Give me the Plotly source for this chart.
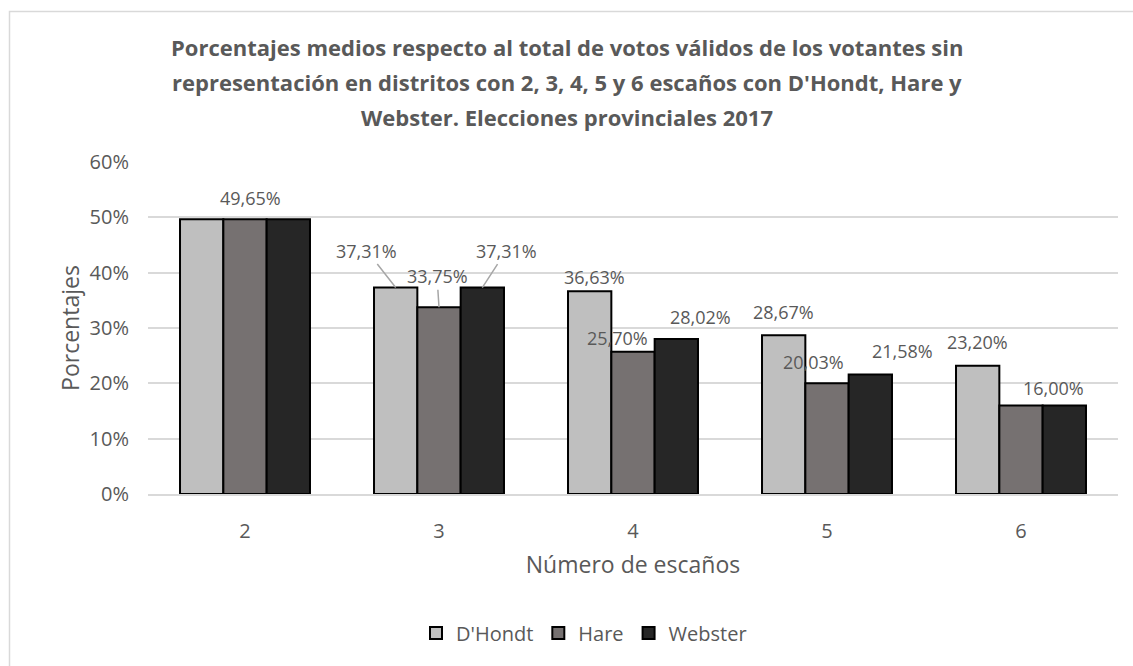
import plotly.graph_objects as go

# ---- data ----
categories = ["2", "3", "4", "5", "6"]
series_names = ["D'Hondt", "Hare", "Webster"]
dhondt = [49.65, 37.31, 36.63, 28.67, 23.20]
hare = [49.65, 33.75, 25.70, 20.03, 16.00]
webster = [49.65, 37.31, 28.02, 21.58, 16.00]
y_ticks = [0, 10, 20, 30, 40, 50, 60]
y_ticklabels = ["0%", "10%", "20%", "30%", "40%", "50%", "60%"]
title_lines = [
    "Porcentajes medios respecto al total de votos válidos de los votantes sin",
    "representación en distritos con 2, 3, 4, 5 y 6 escaños con D'Hondt, Hare y",
    "Webster. Elecciones provinciales 2017",
]
x_title = "Número de escaños"
y_title = "Porcentajes"

# ---- style ----
colors = ["#BFBFBF", "#767171", "#262626"]
FONT = "Open Sans"
TXT = "#595959"
GRID = "#D9D9D9"
BAR_PX = 43.3  # bar width in pixels (for label offsets)
PLOT_L, PLOT_W, PLOT_BOTTOM, PLOT_H = 148, 970, 494, 332

fig = go.Figure()
for name, vals, col in zip(series_names, [dhondt, hare, webster], colors):
    fig.add_trace(go.Bar(
        x=categories, y=vals, name=name,
        marker=dict(color=col, line=dict(color="#000000", width=2)),
    ))

def fmt(v):
    return f"{v:.2f}".replace(".", ",") + "%"

# label placement (series index, category index, dx px from bar centre, dy px above bar top, leader)
label_style = [
    (1, 0, 5, 21, False),
    (0, 1, -29, 37, True),
    (1, 1, -2, 31, True),
    (2, 1, 24, 37, True),
    (0, 2, 5, 14, False),
    (1, 2, -16, 14, False),
    (2, 2, 24, 22, False),
    (0, 3, 0, 23, False),
    (1, 3, -14, 21, False),
    (2, 3, 32, 24, False),
    (0, 4, 0, 24, False),
    (1, 4, 32, 17, False),
]
all_series = [dhondt, hare, webster]
for s, c, dx, dy, leader in label_style:
    v = all_series[s][c]
    off = (s - 1) * BAR_PX
    if leader:
        fig.add_annotation(
            x=c, y=v, xref="x", yref="y", xshift=off,
            text=fmt(v), showarrow=True, arrowhead=0, arrowwidth=1.5,
            arrowcolor="#A6A6A6", ax=dx, ay=-dy, standoff=0,
            font=dict(family=FONT, size=18, color=TXT),
        )
    else:
        fig.add_annotation(
            x=c, y=v, xref="x", yref="y",
            xshift=off + dx, yshift=dy, text=fmt(v), showarrow=False,
            font=dict(family=FONT, size=18, color=TXT),
        )

# title (three lines, Excel-like line spacing)
title_px_y = [47, 82, 117]
for line, py in zip(title_lines, title_px_y):
    fig.add_annotation(
        text=f"<b>{line}</b>", xref="paper", yref="paper",
        x=(567 - PLOT_L) / PLOT_W, y=(PLOT_BOTTOM - py) / PLOT_H,
        xanchor="center", yanchor="middle", showarrow=False,
        font=dict(family=FONT, size=22, color=TXT),
    )

# outer chart border (top & left visible)
fig.add_shape(type="rect", xref="paper", yref="paper",
              x0=(9.5 - PLOT_L) / PLOT_W, x1=(1140 - PLOT_L) / PLOT_W,
              y0=(PLOT_BOTTOM - 680) / PLOT_H, y1=(PLOT_BOTTOM - 11.5) / PLOT_H,
              line=dict(color="#D9D9D9", width=1.5), fillcolor="rgba(0,0,0,0)", layer="below")

fig.update_layout(
    width=1133, height=666,
    margin=dict(l=148, r=15, t=162, b=172),
    paper_bgcolor="white", plot_bgcolor="white",
    barmode="group", bargap=0.33, bargroupgap=0,
    font=dict(family=FONT, color=TXT, size=18),
    showlegend=True,
    legend=dict(orientation="h", x=(584 - PLOT_L) / PLOT_W, xanchor="center",
                y=(PLOT_BOTTOM - 633) / PLOT_H, yanchor="middle",
                font=dict(family=FONT, size=20, color=TXT),
                itemwidth=30, traceorder="normal"),
    xaxis=dict(
        type="category",
        showgrid=False, showline=True, linecolor=GRID, linewidth=1.5,
        ticks="", ticklabelstandoff=18, tickfont=dict(family=FONT, size=20, color=TXT),
        title=dict(text=x_title, font=dict(family=FONT, size=23, color=TXT), standoff=14),
    ),
    yaxis=dict(
        range=[0, 60], tickvals=y_ticks, ticktext=y_ticklabels,
        showgrid=True, gridcolor=GRID, gridwidth=1.5, zeroline=False,
        showline=False, ticks="", ticklabelstandoff=18,
        tickfont=dict(family=FONT, size=20, color=TXT),
        title=dict(text=y_title, font=dict(family=FONT, size=23, color=TXT), standoff=3),
    ),
)

fig.write_html("out.html", config={"displayModeBar": False},
               post_script="document.body.style.margin='0px';")
